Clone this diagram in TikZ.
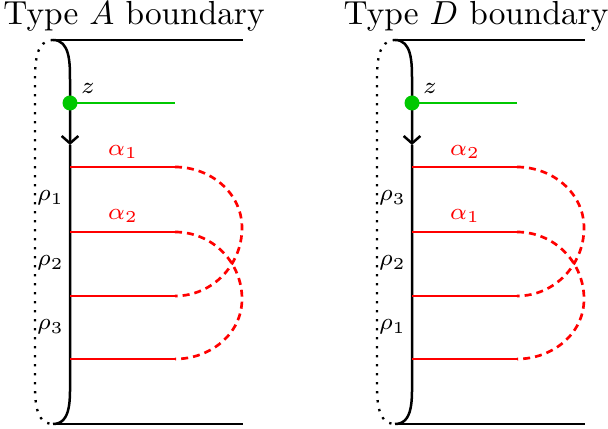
\documentclass[tikz,border=0pt]{standalone}
\usetikzlibrary{arrows.meta}
\definecolor{zgreen}{RGB}{0,200,0}
\begin{document}
\begin{tikzpicture}[x=0.3pt,y=0.3pt,
 bdry/.style={line width=0.75pt},
 edgeline/.style={line width=0.75pt},
 dotbdry/.style={line width=0.7pt, dotted},
 arcline/.style={red, line width=0.8pt},
 arcdash/.style={red, line width=0.8pt, dash pattern=on 2.1pt off 1.5pt},
 basept/.style={zgreen, line width=0.6pt},
 lbl/.style={font=\fontsize{7}{8}\selectfont, inner sep=1pt},
 titlelbl/.style={font=\fontsize{10}{12}\selectfont, anchor=base, inner sep=0pt}]
\useasboundingbox (0,0) rectangle (608,429);
\foreach \dx/\tp/\la/\lb/\ra/\rb/\rc/\n in {0/A/1/2/1/2/3/a,342/D/2/1/3/2/1/d}{
\begin{scope}[shift={(\dx,0)}]
 \coordinate (tl\n) at (53,389); \coordinate (tr\n) at (243,389);
 \coordinate (bl\n) at (53,5); \coordinate (br\n) at (243,5);
 \coordinate (bt\n) at (70,349); \coordinate (ar\n) at (70,284); \coordinate (bb\n) at (70,49);
 \coordinate (dt\n) at (35,349); \coordinate (db\n) at (35,49);
 \draw[edgeline] (tl\n) -- (tr\n);
 \draw[edgeline] (bl\n) -- (br\n);
 \draw[dotbdry] (tl\n) to[out=180,in=90] (dt\n) -- (db\n) to[out=-90,in=180] (bl\n);
 \draw[bdry,-{Straight Barb[length=2.2pt,width=5pt]}] (tl\n) to[out=0,in=90] (bt\n) -- (ar\n);
 \draw[bdry] (ar\n) -- (bb\n) to[out=-90,in=0] (bl\n);
 % base point
 \coordinate (z\n) at (70,326); \coordinate (ze\n) at (175,326);
 \draw[basept] (z\n) -- (ze\n);
 \fill[zgreen] (z\n) circle[radius=2.25pt];
 \node[lbl] (zl\n) at (88,341) {$z$};
 % alpha arcs
 \coordinate (p1\n) at (70,262); \coordinate (q1\n) at (175,262);
 \coordinate (p2\n) at (70,197); \coordinate (q2\n) at (175,197);
 \coordinate (p3\n) at (70,133); \coordinate (q3\n) at (175,133);
 \coordinate (p4\n) at (70,70);  \coordinate (q4\n) at (175,70);
 \coordinate (m1\n) at (242,201); \coordinate (m2\n) at (242,130);
 \draw[arcline] (p1\n) -- (q1\n);
 \draw[arcline] (p2\n) -- (q2\n);
 \draw[arcline] (p3\n) -- (q3\n);
 \draw[arcline] (p4\n) -- (q4\n);
 \draw[arcdash] (q1\n) to[out=0,in=90] (m1\n) to[out=-90,in=0] (q3\n);
 \draw[arcdash] (q2\n) to[out=0,in=90] (m2\n) to[out=-90,in=0] (q4\n);
 \node[lbl,red] (la\n) at (123,277) {$\alpha_{\la}$};
 \node[lbl,red] (lb\n) at (123,213) {$\alpha_{\lb}$};
 \node[lbl,anchor=east] (ra\n) at (68,231) {$\rho_{\ra}$};
 \node[lbl,anchor=east] (rb\n) at (68,166) {$\rho_{\rb}$};
 \node[lbl,anchor=east] (rc\n) at (68,102) {$\rho_{\rc}$};
 \node[titlelbl] (title\n) at (134,404) {Type $\tp$ boundary};
\end{scope}}
\end{tikzpicture}
\end{document}
